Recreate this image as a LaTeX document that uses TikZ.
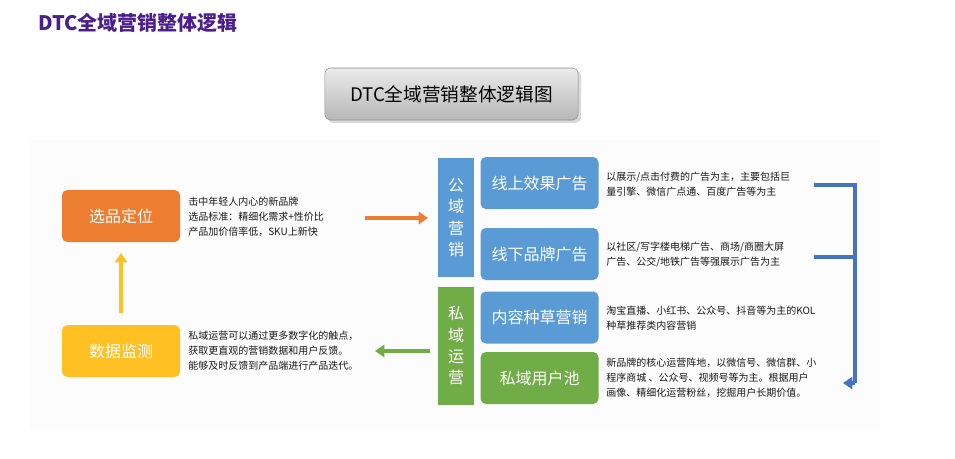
\documentclass[tikz,border=0pt]{standalone}
\usepackage{fontspec}
\newfontfamily\cjk{Noto Sans CJK SC}
\usetikzlibrary{arrows.meta,shadows}
\definecolor{orangeC}{HTML}{ED7D31}
\definecolor{yellowC}{HTML}{FFC023}
\definecolor{blueC}{HTML}{5B9BD5}
\definecolor{greenC}{HTML}{70AD47}
\definecolor{purpleC}{HTML}{4B1E8C}
\definecolor{bracketC}{HTML}{4472C4}
\begin{document}
\begin{tikzpicture}[x=0.75pt,y=-0.75pt,font=\cjk,
  bigbox/.style={rounded corners=4pt,minimum width=88.5pt,minimum height=39pt,text=white,font=\cjk\fontsize{12}{14}\selectfont,inner sep=0pt},
  bar/.style={minimum width=27pt,minimum height=89pt,text=white,font=\cjk\fontsize{12}{16}\selectfont,inner sep=0pt,align=center},
  desc/.style={anchor=west,align=left,font=\cjk\fontsize{7.5}{11.3}\selectfont,text=black!90,inner sep=0pt},
  arr/.style={line width=2.6pt,-{Triangle[length=7pt,width=9pt]}}]
\useasboundingbox (0,0) rectangle (955,458);
\fill[black!1] (30,140) rectangle (880,430);
\node[anchor=west,text=purpleC,font=\cjk\bfseries\fontsize{15}{18}\selectfont,inner sep=0pt] (title) at (38,23) {DTC全域营销整体逻辑};
\node[rounded corners=4pt,draw=black!45,top color=black!8,bottom color=black!28,drop shadow={opacity=0.3},minimum width=190pt,minimum height=39pt,font=\cjk\fontsize{14}{16}\selectfont,inner sep=0pt] (main) at (451.5,94) {DTC全域营销整体逻辑图};
\node[bigbox,fill=orangeC] (xp) at (121,216) {选品定位};
\node[bigbox,fill=yellowC] (sj) at (121,351) {数据监测};
\node[desc] (t1) at (188,217) {击中年轻人内心的新品牌\\选品标准：精细化需求+性价比\\产品加价倍率低，SKU上新快};
\node[desc] (t2) at (188,351) {私域运营可以通过更多数字化的触点，\\获取更直观的营销数据和用户反馈。\\能够及时反馈到产品端进行产品迭代。};
\coordinate (oa) at (365,218); \coordinate (ob) at (428,218);
\draw[orangeC,arr] (oa) -- (ob);
\coordinate (ga) at (430,351); \coordinate (gb) at (375,351);
\draw[greenC,arr] (ga) -- (gb);
\draw[yellowC,arr] (sj.north) ++(0,-12) -- ([yshift=-8]xp.south);
\node[bar,fill=blueC] (gy) at (456,217.5) {公\\域\\营\\销};
\node[bar,fill=greenC] (sy) at (456,346) {私\\域\\运\\营};
\node[bigbox,fill=blueC] (b1) at (539.5,183) {线上效果广告};
\node[bigbox,fill=blueC] (b2) at (539.5,254) {线下品牌广告};
\node[bigbox,fill=blueC] (b3) at (539.5,317.5) {内容种草营销};
\node[bigbox,fill=greenC] (b4) at (539.5,378) {私域用户池};
\node[desc] (d1) at (606,184) {以展示/点击付费的广告为主，主要包括巨\\量引擎、微信广点通、百度广告等为主};
\node[desc] (d2) at (606,255) {以社区/写字楼电梯广告、商场/商圈大屏\\广告、公交/地铁广告等强展示广告为主};
\node[desc] (d3) at (606,318) {淘宝直播、小红书、公众号、抖音等为主的KOL\\种草推荐类内容营销};
\node[desc] (d4) at (606,378) {新品牌的核心运营阵地，以微信号、微信群、小\\程序商城 、公众号、视频号等为主。根据用户\\画像、精细化运营粉丝，挖掘用户长期价值。};
\coordinate (c1) at (814,185); \coordinate (c2) at (855,185);
\coordinate (c3) at (814,257); \coordinate (c4) at (855,257);
\coordinate (c5) at (855,383); \coordinate (c6) at (843,383);
\draw[bracketC,line width=2.4pt,line join=miter] (c1) -- (c2) -- (c5);
\draw[bracketC,line width=2.4pt] (c3) -- (c4);
\draw[bracketC,line width=2.4pt,-{Triangle[length=7pt,width=9pt]}] (c5) -- (c6);
\end{tikzpicture}
\end{document}
